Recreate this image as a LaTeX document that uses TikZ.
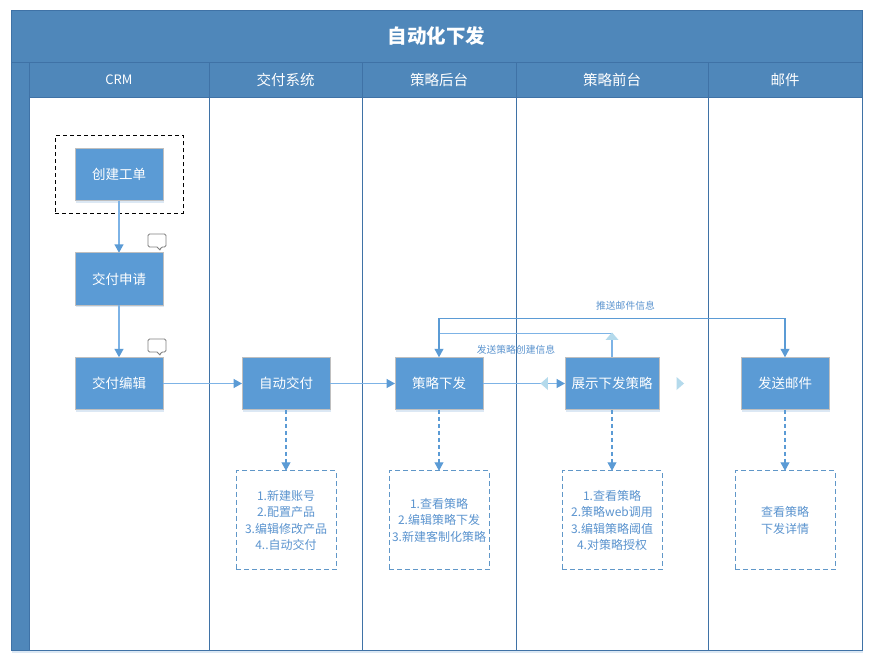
\documentclass[tikz,border=0pt]{standalone}
\usepackage{xcolor}
\usepackage{fontspec}
\setmainfont{Noto Sans CJK SC}
\usetikzlibrary{positioning, arrows.meta, fit, shapes.geometric, shadows}

\definecolor{bandblue}{HTML}{4F87BA}
\definecolor{edgeblue}{HTML}{3F72A6}
\definecolor{boxblue}{HTML}{5B9BD5}
\definecolor{linkblue}{HTML}{7DB3E6}
\definecolor{textblue}{HTML}{5B94CF}
\definecolor{handleblue}{HTML}{B4DAEC}
\definecolor{softblue}{HTML}{DCE8F4}

\begin{document}
\begin{tikzpicture}[
    x=1pt, y=-1pt,
    softshadow/.style={general shadow={shadow xshift=1pt, shadow yshift=-2pt, fill=softblue}},
    band/.style={draw=edgeblue, fill=bandblue, text=white, inner sep=0pt, outer sep=0pt, line width=0.8pt},
    head/.style={band, minimum height=35pt, font=\fontsize{14.5}{16}\selectfont},
    lanebody/.style={draw=edgeblue, fill=white, inner sep=0pt, outer sep=0pt, line width=1pt, minimum height=553.5pt},
    stepbox/.style={draw=gray!50, fill=boxblue, text=white, inner sep=0pt, outer sep=0pt, line width=0.8pt, softshadow,
                minimum width=88pt, minimum height=52.5pt, font=\fontsize{13.5}{16}\selectfont},
    notebox/.style={draw=boxblue!85!gray, line width=0.9pt, dashed, dash pattern=on 5pt off 3pt, fill=white, text=textblue, align=center, inner sep=0pt, outer sep=0pt,
                minimum width=100pt, minimum height=99pt, font=\fontsize{12}{16.5}\selectfont},
    arr/.style={-{Triangle[length=8.5pt, width=9pt, color=boxblue]}, draw=linkblue, line width=1.5pt},
    darr/.style={arr, draw=boxblue, line width=1.1pt, dashed, dash pattern=on 4pt off 3pt},
    back/.style={draw=linkblue, line width=1.5pt},
    push/.style={{Triangle[length=8.5pt, width=9pt]}-{Triangle[length=8.5pt, width=9pt]}, draw=boxblue, line width=1.1pt},
    linklabel/.style={text=textblue, inner sep=0pt, font=\fontsize{9.8}{12}\selectfont},
    handle/.style={isosceles triangle, isosceles triangle stretches, fill=handleblue, inner sep=0pt,
                minimum height=7.5pt, minimum width=13pt},
    bubble/.pic={
      \draw[gray, line width=0.9pt, fill=white, line join=round, rounded corners=1.5pt]
        (-9,-8) -- (9,-8) -- (9,5) -- (4,5) [sharp corners] -- (3,8) -- (0,5) [rounded corners=1.5pt] -- (-9,5) -- cycle;
    }
  ]
  \useasboundingbox (0,0) rectangle (870,659);

  % frame
  \node[band, minimum width=851pt, minimum height=52pt, softshadow, font=\bfseries\fontsize{19.5}{22}\selectfont] (title) at (436.5,36) {\raisebox{1pt}{自动化下发}};
  \node[band, minimum width=18pt, minimum height=588.5pt, softshadow] (strip) at (20,356.25) {};

  % lanes
  \node[head, minimum width=180pt] (crm)      at (119,79.5)   {\fontsize{13}{16}\selectfont CRM};
  \node[head, minimum width=153pt] (delivery) at (285.5,79.5) {交付系统};
  \node[head, minimum width=154pt] (backend)  at (439,79.5)   {策略后台};
  \node[head, minimum width=192pt] (frontend) at (612,79.5)   {策略前台};
  \node[head, minimum width=154pt] (email)    at (785,79.5)   {邮件};
  \node[lanebody, softshadow, minimum width=180pt, below=0pt of crm] (crmlane) {};
  \node[lanebody, softshadow, minimum width=153pt, below=0pt of delivery] (deliverylane) {};
  \node[lanebody, softshadow, minimum width=154pt, below=0pt of backend] (backendlane) {};
  \node[lanebody, softshadow, minimum width=192pt, below=0pt of frontend] (frontendlane) {};
  \node[lanebody, softshadow, minimum width=154pt, below=0pt of email] (emaillane) {};

  % steps
  \node[stepbox] (create) at (119,174.5) {创建工单};
  \node[stepbox, below=52pt of create] (apply) {交付申请};
  \node[stepbox, below=52pt of apply]  (edit)  {交付编辑};
  \node[stepbox, right=79pt of edit]     (auto)     {自动交付};
  \node[stepbox, right=65pt of auto]     (strategy) {策略下发};
  \node[stepbox, minimum width=94pt, right=82pt of strategy] (show) {展示下发策略};
  \node[stepbox, right=82pt of show]     (mail)     {发送邮件};
  \node[draw=black, dashed, dash pattern=on 4pt off 3pt, line width=0.9pt, inner xsep=20pt, inner ysep=12.5pt, fit=(create)] (start) {};

  % notes
  \node[notebox, below=61pt of auto]     (autonote)     {1.新建账号\\2.配置产品\\3.编辑修改产品\\4..自动交付};
  \node[notebox, below=61pt of strategy] (strategynote) {1.查看策略\\2.编辑策略下发\\3.新建客制化策略};
  \node[notebox, below=61pt of show]     (shownote)     {1.查看策略\\2.策略web调用\\3.编辑策略阈值\\4.对策略授权};
  \node[notebox, below=61pt of mail]     (mailnote)     {查看策略\\下发详情};

  \pic at (157,242) {bubble};
  \pic at (157,347) {bubble};

  % links
  \coordinate (pushleft)  at (strategy.north |- 0,318.5);
  \coordinate (pushright) at (mail.north |- 0,318.5);
  \coordinate (backleft)  at (strategy.north |- 0,333.5);
  \coordinate (backright) at (show.north |- 0,333.5);

  \draw[back] (show.north) -- (backright) -- (backleft);
  \draw[arr] (create) -- (apply);
  \draw[arr] (apply)  -- (edit);
  \draw[arr] (edit)   -- (auto);
  \draw[arr] (auto)   -- (strategy);
  \draw[arr] (strategy) -- (show);
  \draw[push] (strategy.north) -- (pushleft) -- (pushright) -- (mail.north);
  \draw[darr] (auto)     -- (autonote);
  \draw[darr] (strategy) -- (strategynote);
  \draw[darr] (show)     -- (shownote);
  \draw[darr] (mail)     -- (mailnote);

  \node[linklabel] (pushlabel) at (625.5,305.5) {推送邮件信息};
  \node[linklabel] (backlabel) at (516,349.5) {发送策略创建信息};

  % handles
  \node[handle, shape border rotate=90]  (showtop)  at (612,337) {};
  \node[handle, shape border rotate=180] (lefttip)  at (545,383.5) {};
  \node[handle, shape border rotate=0]   (righttip) at (679.5,383.5) {};
\end{tikzpicture}
\end{document}
